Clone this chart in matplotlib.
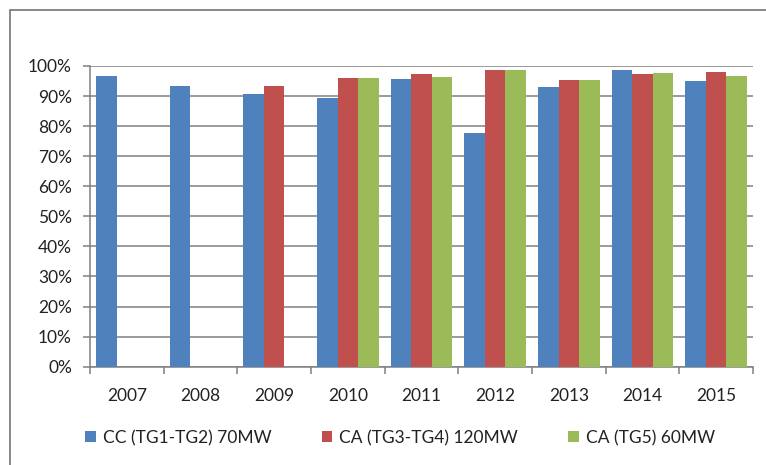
import matplotlib.pyplot as plt
import matplotlib.patches as mpatches
from matplotlib.ticker import FuncFormatter, FixedLocator
import numpy as np

plt.rcParams['font.family'] = ['Lato', 'DejaVu Sans']

years = ['2007', '2008', '2009', '2010', '2011', '2012', '2013', '2014', '2015']
seriesNames = ['CC (TG1-TG2) 70MW', 'CA (TG3-TG4) 120MW', 'CA (TG5) 60MW']
cc = [96.6, 93.2, 90.8, 89.5, 95.6, 77.8, 92.9, 98.6, 94.9]
caRed = [np.nan, np.nan, 93.2, 95.9, 97.3, 98.7, 95.2, 97.3, 98.0]
caGreen = [np.nan, np.nan, np.nan, 95.9, 96.3, 98.7, 95.5, 97.6, 96.6]
colors = ['#4F81BD', '#C0504D', '#9BBB59']

W, H = 766, 465
fig = plt.figure(figsize=(W / 100, H / 100), dpi=100)

# outer chart frame (cropped at right and bottom)
frame = mpatches.Rectangle((10 / W, -0.1), 1.2, 1 - 10 / H + 0.1, transform=fig.transFigure,
                           fill=False, edgecolor='#7f7f7f', linewidth=1.3, clip_on=False)
fig.patches.append(frame)

ax = fig.add_axes([90 / W, (H - 366.7) / H, 663 / W, 300.7 / H])

x = np.arange(len(years))
barW = 0.28
for i, (vals, c, name) in enumerate(zip([cc, caRed, caGreen], colors, seriesNames)):
    ax.bar(x + (i - 1) * barW, vals, width=barW, color=c, label=name, zorder=3)

ax.set_xlim(-0.5, len(years) - 0.5)
ax.set_ylim(0, 100)
ax.set_yticks(np.arange(0, 101, 10))
ax.yaxis.set_major_formatter(FuncFormatter(lambda v, p: f'{int(v)}%'))
ax.yaxis.grid(True, color='#808080', linewidth=1.1, zorder=0)

# category boundaries as major ticks, labels on minor ticks
ax.xaxis.set_major_locator(FixedLocator(np.arange(-0.5, len(years), 1.0)))
ax.xaxis.set_major_formatter(FuncFormatter(lambda v, p: ''))
ax.xaxis.set_minor_locator(FixedLocator(x))
ax.set_xticklabels(years, minor=True)
ax.tick_params(axis='x', which='major', length=5, color='#808080', width=1.1)
ax.tick_params(axis='x', which='minor', length=0, pad=15, labelsize=12.5, labelcolor='#222222')
ax.tick_params(axis='y', length=5, color='#808080', width=1.1, pad=8, labelsize=12.5,
               labelcolor='#222222')

for s in ['top', 'right']:
    ax.spines[s].set_visible(False)
for s in ['left', 'bottom']:
    ax.spines[s].set_color('#808080')
    ax.spines[s].set_linewidth(1.1)

fig.legend(loc='center', bbox_to_anchor=(400 / W, 1 - 438 / H), ncol=3, frameon=False,
           fontsize=12.5, handlelength=0.6, handleheight=0.6, handletextpad=0.4,
           columnspacing=2.9, labelcolor='#222222')

fig.savefig('out.png', dpi=100)
